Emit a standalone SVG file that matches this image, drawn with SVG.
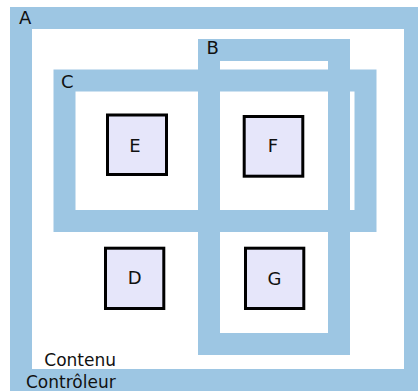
<svg xmlns="http://www.w3.org/2000/svg" width="418" height="392" viewBox="0 0 418 392">
<style>
.frame{fill:none;stroke:#9dc6e3;stroke-width:22}
.box{fill:#e6e6fa;stroke:#000;stroke-width:3}
text{font-family:"DejaVu Sans",sans-serif;font-size:18px;fill:#111}
.s{font-size:17px}
.c{text-anchor:middle}
</style>
<rect width="418" height="392" fill="#fff"/>
<g id="A">
<rect class="frame" x="21" y="18" width="394" height="362"/>
<text x="19" y="24">A</text>
<text class="s" x="116" y="366" text-anchor="end">Contenu</text>
<text class="s" x="26" y="388">Contrôleur</text>
</g>
<g id="B">
<rect class="frame" x="209" y="50" width="130" height="294"/>
<text x="206.5" y="54">B</text>
</g>
<g id="C">
<rect class="frame" x="64.5" y="80.5" width="301" height="140.5"/>
<text x="61" y="88">C</text>
</g>
<g id="E">
<rect class="box" x="107.5" y="115" width="59" height="59.5"/>
<text class="c" x="135" y="151.5">E</text>
</g>
<g id="F">
<rect class="box" x="244.2" y="116.5" width="58.6" height="59.7"/>
<text class="c" x="273" y="151.5">F</text>
</g>
<g id="D">
<rect class="box" x="105.5" y="248.2" width="58.3" height="60.3"/>
<text class="c" x="134.7" y="284.3">D</text>
</g>
<g id="G">
<rect class="box" x="245.5" y="248.2" width="58.3" height="60.3"/>
<text class="c" x="274.5" y="285">G</text>
</g>
</svg>
